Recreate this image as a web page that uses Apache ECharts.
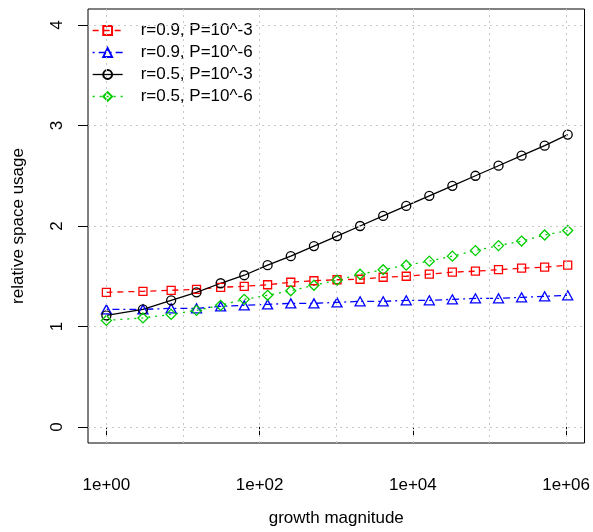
<!DOCTYPE html>
<html>
<head>
<meta charset="utf-8">
<title>relative space usage</title>
<script src="https://cdn.jsdelivr.net/npm/echarts@6.0.0/dist/echarts.min.js"></script>
<style>
  html, body { margin: 0; padding: 0; background: #fff; }
  #main { width: 593px; height: 532px; }
</style>
</head>
<body>
<div id="main"></div>
<script>
'use strict';

// growth magnitude (2^k - 1)
var growth = [1, 3, 7, 15, 31, 63, 127, 255, 511, 1023, 2047, 4095, 8191, 16383,
              32767, 65535, 131071, 262143, 524287, 1048575];

var seriesNames = ['r=0.9, P=10^-3', 'r=0.9, P=10^-6', 'r=0.5, P=10^-3', 'r=0.5, P=10^-6'];

var r9p3 = [1.34, 1.35, 1.36, 1.37, 1.39, 1.40, 1.415, 1.44, 1.455, 1.465,
            1.47, 1.49, 1.50, 1.52, 1.54, 1.55, 1.565, 1.58, 1.59, 1.61];
var r9p6 = [1.17, 1.17, 1.18, 1.18, 1.20, 1.21, 1.22, 1.23, 1.23, 1.24,
            1.25, 1.25, 1.26, 1.26, 1.27, 1.28, 1.28, 1.29, 1.30, 1.31];
var r5p3 = [1.11, 1.17, 1.26, 1.34, 1.43, 1.51, 1.61, 1.70, 1.80, 1.90,
            2.00, 2.10, 2.20, 2.30, 2.40, 2.50, 2.60, 2.70, 2.80, 2.91];
var r5p6 = [1.06, 1.085, 1.12, 1.16, 1.21, 1.27, 1.31, 1.355, 1.41, 1.46,
            1.52, 1.565, 1.61, 1.65, 1.70, 1.755, 1.805, 1.85, 1.91, 1.955];

// tick labels and grid lines
var xTicks = [1, 100, 10000, 1000000];
var xGridLines = [1, 10, 100, 1000, 10000, 100000, 1000000];
var yTicks = [0, 1, 2, 3, 4];

var font = 'Liberation Sans, Arial, Helvetica, sans-serif';

function pairs(ys) {
    return ys.map(function (y, i) { return [growth[i], y]; });
}

function expLabel(v) {
    var e = Math.round(Math.log(v) / Math.LN10);
    return '1e+' + (e < 10 ? '0' + e : e);
}

function lineSeries(name, ys, color, dash, symbol, size) {
    return {
        name: name,
        type: 'line',
        data: pairs(ys),
        symbol: symbol,
        symbolSize: size,
        showSymbol: true,
        lineStyle: { color: color, width: 1.3, type: dash },
        itemStyle: { color: 'rgba(0,0,0,0)', borderColor: color, borderWidth: 1.3 },
        emphasis: { disabled: true },
        z: 3
    };
}

var myChart = echarts.init(document.getElementById('main'));

var option = {
    animation: false,
    backgroundColor: '#fff',
    textStyle: { fontFamily: font, color: '#000' },
    grid: {
        left: 88, right: 6, top: 9, bottom: 85,
        show: true, borderColor: '#000', borderWidth: 1,
        backgroundColor: 'transparent'
    },
    legend: {
        data: seriesNames,
        orient: 'vertical',
        left: 92, top: 22,
        padding: 0,
        itemWidth: 30, itemHeight: 11, itemGap: 5,
        lineStyle: { width: 1.3 },
        textStyle: { fontFamily: font, fontSize: 17, color: '#000', padding: [0, 0, 0, 13] }
    },
    xAxis: {
        type: 'log',
        logBase: 10,
        min: Math.pow(10, -0.24),
        max: Math.pow(10, 6.24),
        name: 'growth magnitude',
        nameLocation: 'middle',
        nameGap: 67,
        nameTextStyle: { fontFamily: font, fontSize: 17, color: '#000' },
        axisLine: { show: false },
        axisTick: { show: true, customValues: xTicks, length: 10, lineStyle: { color: '#000', width: 1 } },
        axisLabel: { customValues: xTicks, formatter: expLabel, margin: 34, fontSize: 17, color: '#000', fontFamily: font },
        splitLine: { show: false },
        minorTick: { show: false }
    },
    yAxis: {
        type: 'value',
        min: -0.16,
        max: 4.16,
        name: 'relative space usage',
        nameLocation: 'middle',
        nameGap: 61,
        nameTextStyle: { fontFamily: font, fontSize: 17, color: '#000' },
        axisLine: { show: false },
        axisTick: { show: true, customValues: yTicks, length: 10, lineStyle: { color: '#000', width: 1 } },
        axisLabel: { customValues: yTicks, rotate: 90, margin: 22, fontSize: 17, color: '#000', fontFamily: font },
        splitLine: { show: false }
    },
    series: [
        // dotted grid
        {
            name: 'grid',
            type: 'line',
            data: [],
            silent: true,
            z: 1,
            markLine: {
                silent: true,
                symbol: 'none',
                label: { show: false },
                animation: false,
                lineStyle: { color: '#c8c8c8', width: 1, type: [2, 4] },
                data: xGridLines.map(function (v) { return { xAxis: v }; })
                    .concat(yTicks.map(function (v) { return { yAxis: v }; }))
            }
        },
        lineSeries(seriesNames[0], r9p3, '#ff0000', [6, 5], 'rect', 8),
        lineSeries(seriesNames[1], r9p6, '#0000ff', [2, 4, 7, 4], 'triangle', [10, 9]),
        lineSeries(seriesNames[2], r5p3, '#000000', 'solid', 'circle', 9),
        lineSeries(seriesNames[3], r5p6, '#00cd00', [2, 5], 'diamond', 10)
    ]
};

myChart.setOption(option);
</script>
</body>
</html>
